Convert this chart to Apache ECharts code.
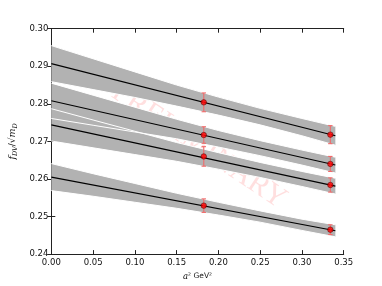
<!DOCTYPE html>
<html>
<head>
<meta charset="utf-8">
<script src="https://cdn.jsdelivr.net/npm/echarts@6/dist/echarts.min.js"></script>
<style>
html,body{margin:0;padding:0;background:#fff;}
#c{width:382px;height:286px;}
</style>
</head>
<body>
<div id="c"></div>
<script>
// ---- data ----
const xTicks = [0.00, 0.05, 0.10, 0.15, 0.20, 0.25, 0.30, 0.35];
const yTicks = [0.24, 0.25, 0.26, 0.27, 0.28, 0.29, 0.30];

// abscissae at which the band edges were read
const bandX = [0.00, 0.05, 0.10, 0.15, 0.20, 0.25, 0.30, 0.34];
const band1Upper = [0.2955, 0.2920, 0.2885, 0.2850, 0.2818, 0.2788, 0.2761, 0.2740];
const band1Lower = [0.2859, 0.2838, 0.2817, 0.2794, 0.2770, 0.2744, 0.2715, 0.2690];
const band2Upper = [0.2855, 0.2823, 0.2791, 0.2759, 0.2729, 0.2702, 0.2677, 0.2658];
const band2Lower = [0.2761, 0.2743, 0.2725, 0.2707, 0.2685, 0.2662, 0.2637, 0.2616];
const band3Upper = [0.2787, 0.2757, 0.2727, 0.2697, 0.2670, 0.2644, 0.2620, 0.2602];
const band3Lower = [0.2701, 0.2683, 0.2665, 0.2647, 0.2626, 0.2604, 0.2580, 0.2560];
const band4Upper = [0.2641, 0.2614, 0.2588, 0.2562, 0.2538, 0.2515, 0.2493, 0.2478];
const band4Lower = [0.2569, 0.2554, 0.2538, 0.2522, 0.2504, 0.2485, 0.2463, 0.2446];

// central fit lines (value at x = 0 and at x = 0.34)
const fitX = [0.00, 0.34];
const fit1 = [0.2907, 0.2715];
const fit2 = [0.2808, 0.2637];
const fit3 = [0.2744, 0.2581];
const fit4 = [0.2605, 0.2462];

// data points with errors
const pointX = [0.1825, 0.334];
const pts1 = [0.2804, 0.2718];  const err1 = [0.0025, 0.0024];
const pts2 = [0.2717, 0.2640];  const err2 = [0.0022, 0.0020];
const pts3 = [0.2660, 0.2584];  const err3 = [0.0026, 0.0019];
const pts4 = [0.2529, 0.2465];  const err4 = [0.0018, 0.0013];

const watermark = 'PRELIMINARY';
const xName = '{i|a}{n|² GeV²}';
const yName = '{i|f}{s|DV}{n|/√}{i|m}{s|D}';

// ---- build ----
const bands = [[band1Upper, band1Lower], [band2Upper, band2Lower], [band3Upper, band3Lower], [band4Upper, band4Lower]];
const fits = [fit1, fit2, fit3, fit4];
const pts = [pts1, pts2, pts3, pts4];
const errs = [err1, err2, err3, err4];

const GRAY = '#b2b2b2';
const FONT = 'DejaVu Sans';

function bandPolygon(api, b) {
  const up = bands[b][0], lo = bands[b][1];
  const P = [];
  for (let i = 0; i < bandX.length; i++) P.push(api.coord([bandX[i], up[i]]));
  for (let i = bandX.length - 1; i >= 0; i--) P.push(api.coord([bandX[i], lo[i]]));
  return P;
}

const series = [];
// band fills
series.push({
  type: 'custom', z: 2, silent: true,
  data: bands.map((_, i) => [i]),
  renderItem: function (params, api) {
    const b = params.dataIndex;
    return { type: 'polygon', shape: { points: bandPolygon(api, b) }, style: { fill: GRAY } };
  }
});
// band white edges (upper & lower)
series.push({
  type: 'custom', z: 3, silent: true,
  data: bands.map((_, i) => [i]),
  renderItem: function (params, api) {
    const b = params.dataIndex;
    const up = bands[b][0], lo = bands[b][1];
    const U = bandX.map((x, i) => api.coord([x, up[i]]));
    const L = bandX.map((x, i) => api.coord([x, lo[i]]));
    return {
      type: 'group', children: [
        { type: 'polyline', shape: { points: U }, style: { stroke: '#fff', lineWidth: 1, fill: null } },
        { type: 'polyline', shape: { points: L }, style: { stroke: '#fff', lineWidth: 1, fill: null } }
      ]
    };
  }
});
// fit lines
fits.forEach(f => {
  series.push({
    type: 'line', z: 4, silent: true, symbol: 'none',
    data: fitX.map((x, i) => [x, f[i]]),
    lineStyle: { color: '#000', width: 1.1 }
  });
});
// error bars
const errData = [];
pts.forEach((p, s) => p.forEach((v, i) => errData.push([pointX[i], v, errs[s][i]])));
series.push({
  type: 'custom', z: 5, silent: true,
  data: errData,
  renderItem: function (params, api) {
    const x = api.value(0), y = api.value(1), e = api.value(2);
    const top = api.coord([x, y + e]);
    const bot = api.coord([x, y - e]);
    const c = 2.2;
    const st = { stroke: '#f06a6a', lineWidth: 1.1 };
    return {
      type: 'group', children: [
        { type: 'line', shape: { x1: top[0], y1: top[1], x2: bot[0], y2: bot[1] }, style: st },
        { type: 'line', shape: { x1: top[0] - c, y1: top[1], x2: top[0] + c, y2: top[1] }, style: st },
        { type: 'line', shape: { x1: bot[0] - c, y1: bot[1], x2: bot[0] + c, y2: bot[1] }, style: st }
      ]
    };
  }
});
// points
pts.forEach(p => {
  series.push({
    type: 'scatter', z: 6, silent: true, symbol: 'circle', symbolSize: 5.5,
    data: pointX.map((x, i) => [x, p[i]]),
    itemStyle: { color: '#ff0000', borderColor: '#400000', borderWidth: 0.6 }
  });
});

const fmt2 = v => (Math.round(v * 100) / 100).toFixed(2);
const axisLine = { show: true, lineStyle: { color: '#222', width: 1 } };
const tick = { show: true, inside: true, length: 4, lineStyle: { color: '#222', width: 1 } };

const option = {
  backgroundColor: '#fff',
  animation: false,
  grid: { left: 47.7, right: 38.3, top: 28.7, bottom: 28.7, containLabel: false },
  graphic: [{
    type: 'text', z: 0, zlevel: 0, silent: true,
    x: 199, y: 146, rotation: -0.59,
    style: {
      text: watermark, font: '30px "Liberation Serif"', fill: 'rgba(255,40,40,0.15)',
      align: 'center', verticalAlign: 'middle'
    }
  }],
  xAxis: [{
    type: 'value', min: xTicks[0], max: xTicks[xTicks.length - 1], interval: 0.05,
    axisLine: axisLine, axisTick: tick, splitLine: { show: false },
    axisLabel: { color: '#111', fontFamily: FONT, fontSize: 8.5, margin: 4, formatter: fmt2 },
    name: xName, nameLocation: 'middle', nameGap: 11,
    nameTextStyle: {
      color: '#111', fontFamily: FONT, fontSize: 8,
      rich: { i: { fontStyle: 'italic', fontFamily: 'DejaVu Serif', fontSize: 8.5 }, n: { fontFamily: FONT, fontSize: 7.5 } }
    }
  }, {
    type: 'value', position: 'top', min: xTicks[0], max: xTicks[xTicks.length - 1], interval: 0.05,
    axisLine: axisLine, axisTick: tick, axisLabel: { show: false }, splitLine: { show: false }
  }],
  yAxis: [{
    type: 'value', min: yTicks[0], max: yTicks[yTicks.length - 1], interval: 0.01,
    axisLine: axisLine, axisTick: tick, splitLine: { show: false },
    axisLabel: { color: '#111', fontFamily: FONT, fontSize: 8.5, margin: 3, formatter: fmt2 },
    name: yName, nameLocation: 'middle', nameRotate: 90, nameGap: 25,
    nameTextStyle: {
      color: '#111', fontFamily: FONT, fontSize: 9,
      rich: {
        i: { fontStyle: 'italic', fontFamily: 'DejaVu Serif', fontSize: 9.5 },
        s: { fontStyle: 'italic', fontFamily: 'DejaVu Serif', fontSize: 6.5, verticalAlign: 'bottom', padding: [4, 0, 0, 0] },
        n: { fontFamily: FONT, fontSize: 9 }
      }
    }
  }, {
    type: 'value', position: 'right', min: yTicks[0], max: yTicks[yTicks.length - 1], interval: 0.01,
    axisLine: axisLine, axisTick: tick, axisLabel: { show: false }, splitLine: { show: false }
  }],
  series: series
};

const chart = echarts.init(document.getElementById('c'), null, { renderer: 'canvas' });
chart.setOption(option);
</script>
</body>
</html>
